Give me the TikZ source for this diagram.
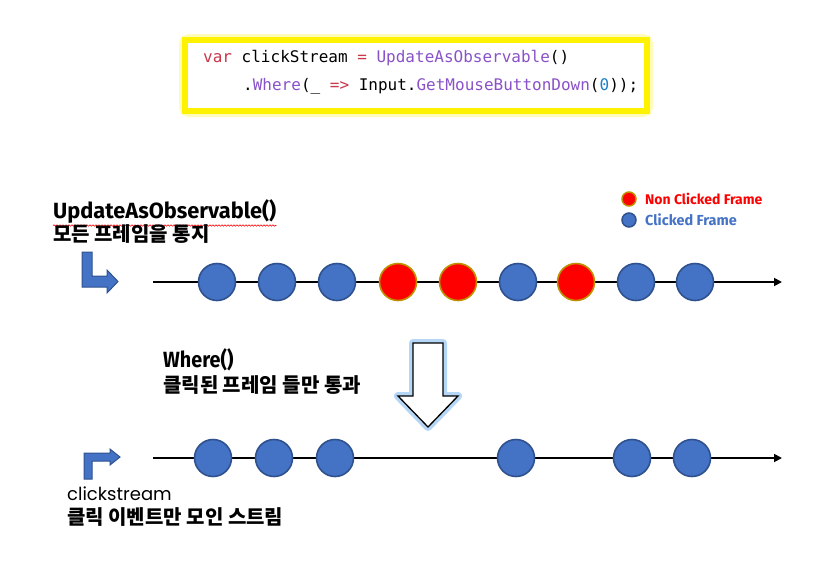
\documentclass[tikz,border=0pt]{standalone}
\usepackage{fontspec}
\setmainfont{Liberation Sans}
\newfontfamily\codefont{DejaVu Sans Mono}
\newfontfamily\kr{Noto Sans CJK KR}
\newfontfamily\fira{Fira Sans}
\newfontfamily\pop{Poppins}
\usetikzlibrary{arrows.meta,decorations.pathmorphing}
\definecolor{cblue}{HTML}{4472C4}
\definecolor{cblueb}{HTML}{2F528F}
\definecolor{cgold}{HTML}{BF9000}
\definecolor{kwred}{HTML}{C8374A}
\definecolor{kwpurple}{HTML}{8A52C8}
\definecolor{numblue}{HTML}{1E7FC8}
\definecolor{glowblue}{HTML}{9CC8F0}
\tikzset{
  blueball/.style={circle, minimum size=37pt, inner sep=0pt, fill=cblue, draw=cblueb, line width=1.6pt},
  redball/.style={circle, minimum size=37pt, inner sep=0pt, fill=red, draw=cgold, line width=1.6pt},
  axis/.style={line width=1.8pt, -{Triangle[length=8pt,width=8pt]}},
  bentarrow/.style={fill=cblue, draw=cblueb, line width=1pt},
  title/.style={anchor=west, inner sep=0pt, font=\fira\bfseries\fontsize{22}{24}\selectfont},
  krtext/.style={anchor=west, inner sep=0pt, font=\kr\bfseries\fontsize{20}{22}\selectfont},
}
\begin{document}
\begin{tikzpicture}[x=1pt,y=-1pt]
\useasboundingbox (0,0) rectangle (813,584);
% code box
\draw[yellow!60, line width=12pt, rounded corners=4pt, opacity=0.45] (185,40) rectangle (647,111);
\draw[yellow, line width=6pt, fill=white] (185,40) rectangle (647,111);
\node[anchor=base west, inner sep=0pt, font=\codefont\fontsize{16}{18}\selectfont] (code1) at (203,62)
  {\textcolor{kwred}{var} clickStream \textcolor{kwred}{=} \textcolor{kwpurple}{UpdateAsObservable}()};
\node[anchor=base west, inner sep=0pt, font=\codefont\fontsize{16}{18}\selectfont] (code2) at (243,90)
  {.\textcolor{kwpurple}{Where}(\_ \textcolor{kwred}{=>} Input.\textcolor{kwpurple}{GetMouseButtonDown}(\textcolor{numblue}{0}));};
% legend
\node[redball, minimum size=14pt, line width=1.5pt] (lgred) at (629,199) {};
\node[blueball, minimum size=14pt, line width=1.5pt] (lgblue) at (629,220) {};
\node[anchor=west, inner sep=0pt, text=red, font=\fira\bfseries\fontsize{14}{16}\selectfont] (lgredt) at (645,199) {Non Clicked Frame};
\node[anchor=west, inner sep=0pt, text=cblue, font=\fira\bfseries\fontsize{14.5}{16}\selectfont] (lgbluet) at (645,220) {Clicked Frame};
% top labels
\node[title] (t1) at (53,211) {\scalebox{0.99}[1]{UpdateAsObservable()}};
\draw[red, line width=0.6pt, decorate, decoration={snake, amplitude=0.7pt, segment length=3pt}] (53,225.5) -- (t1.east |- 0,225.5);
\node[krtext] (k1) at (53,234) {모든 프레임을 통지};
% bent arrow 1
\draw[bentarrow] (82,252) -- (92,252) -- (92,276) -- (107,276) -- (107,270) -- (118,281.5) -- (107,293) -- (107,287) -- (82,287) -- cycle;
% axis 1
\coordinate (a1s) at (153,282);
\coordinate (a1e) at (782,282);
\draw[axis] (a1s) -- (a1e);
\node[blueball] (b1) at (217,282) {};
\node[blueball] (b2) at (277,282) {};
\node[blueball] (b3) at (337,282) {};
\node[redball]  (b4) at (398,282) {};
\node[redball]  (b5) at (458,282) {};
\node[blueball] (b6) at (518,282) {};
\node[redball]  (b7) at (576,282) {};
\node[blueball] (b8) at (636,282) {};
\node[blueball] (b9) at (695,282) {};
% where labels
\node[title] (t2) at (163,360) {\scalebox{0.9}[1]{Where()}};
\node[krtext] (k2) at (163,385) {클릭된 프레임 들만 통과};
% down arrow
\draw[glowblue, line width=8pt, line join=round, opacity=0.75] (413,343) -- (443,343) -- (443,396) -- (458,396) -- (428,427) -- (398,396) -- (413,396) -- cycle;
\draw[black, fill=white, line width=1.3pt] (413,343) -- (443,343) -- (443,396) -- (458,396) -- (428,427) -- (398,396) -- (413,396) -- cycle;
% axis 2
\coordinate (a2s) at (153,458);
\coordinate (a2e) at (782,458);
\draw[axis] (a2s) -- (a2e);
\node[blueball] (c1) at (213,458) {};
\node[blueball] (c2) at (274,458) {};
\node[blueball] (c3) at (335,458) {};
\node[blueball] (c4) at (516,458) {};
\node[blueball] (c5) at (632,458) {};
\node[blueball] (c6) at (692,458) {};
% bent arrow 2
\draw[bentarrow] (84,479) -- (84,453) -- (110,453) -- (110,449) -- (120,457) -- (110,465) -- (110,461) -- (92,461) -- (92,479) -- cycle;
% bottom labels
\node[anchor=west, inner sep=0pt, font=\pop\fontsize{18}{20}\selectfont] (t3) at (67,494) {clickstream};
\node[krtext] (k3) at (67,517) {클릭 이벤트만 모인 스트림};
\end{tikzpicture}
\end{document}
